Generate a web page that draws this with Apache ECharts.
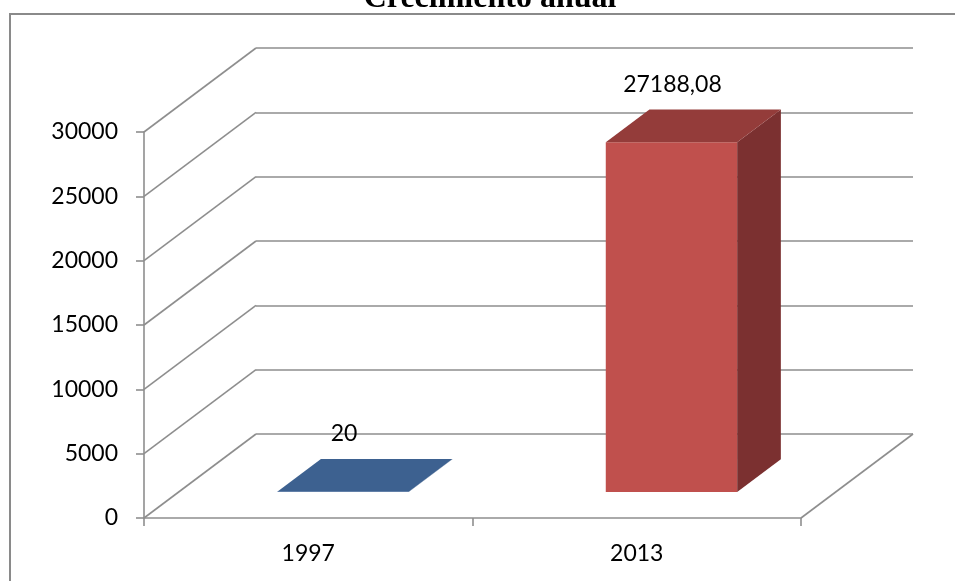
<!DOCTYPE html>
<html>
<head>
<meta charset="utf-8">
<title>Crecimiento anual</title>
<script src="https://cdn.jsdelivr.net/npm/echarts@6/dist/echarts.min.js"></script>
<style>
  html, body { margin: 0; padding: 0; background: #ffffff; overflow: hidden; }
  #chart { width: 955px; height: 581px; }
</style>
</head>
<body>
<div id="chart"></div>
<script>
// Series data
const categories = ['1997', '2013'];
const values = [20, 27188.08];
const yTicks = [0, 5000, 10000, 15000, 20000, 25000, 30000];

// Pseudo-3D layout: the front plane grid and the back wall offset by DEPTH
const FRONT = { left: 144, right: 154, top: 132, bottom: 63 };
const DEPTH = { x: 112, y: 84 };
const BAR_FRONT = 0.31;   // depth fraction where the bar's front face sits
const BAR_DEPTH = 0.39;   // depth fraction the bar occupies
const BAR_WIDTH = 0.4;    // fraction of the category band
const GRID_COLOR = '#8E8E8E';
const FACE_FRONT = ['#4F81BD', '#C0504D'];
const FACE_TOP = ['#3D6190', '#943C3A'];
const FACE_SIDE = ['#34527C', '#7B3030'];
const LABEL_FONT = 'Lato, "Open Sans", sans-serif';

const chart = echarts.init(document.getElementById('chart'), null, { renderer: 'canvas' });

const fmt = v => String(v).replace('.', ',');

const option = {
  animation: false,
  backgroundColor: '#ffffff',
  graphic: [
    {
      // chart-area frame: top and left edges (it runs on past the page)
      type: 'line', silent: true, z: -10,
      shape: { x1: 10, y1: 14, x2: 955, y2: 14 },
      style: { stroke: '#8A8A8A', lineWidth: 2 }
    },
    {
      type: 'line', silent: true, z: -10,
      shape: { x1: 10, y1: 13, x2: 10, y2: 581 },
      style: { stroke: '#8A8A8A', lineWidth: 2 }
    },
    {
      type: 'text', silent: true,
      x: 490, y: -1,
      style: {
        text: 'Crecimiento anual',
        font: 'bold 32px "Liberation Serif", "Times New Roman", serif',
        fill: '#000000', textAlign: 'center', textVerticalAlign: 'middle'
      }
    }
  ],
  grid: [
    { left: FRONT.left, right: FRONT.right, top: FRONT.top, bottom: FRONT.bottom, containLabel: false },
    {
      left: FRONT.left + DEPTH.x, right: FRONT.right - DEPTH.x,
      top: FRONT.top - DEPTH.y, bottom: FRONT.bottom + DEPTH.y, containLabel: false
    }
  ],
  xAxis: [
    {
      type: 'category', gridIndex: 0, data: categories, boundaryGap: true,
      axisLine: { show: true, lineStyle: { color: GRID_COLOR, width: 1.6 } },
      axisTick: { show: true, length: 8, interval: 0, lineStyle: { color: GRID_COLOR, width: 1.6 } },
      axisLabel: { color: '#000', fontFamily: LABEL_FONT, fontSize: 23, margin: 24 },
      splitLine: { show: false }
    },
    {
      type: 'category', gridIndex: 1, data: categories, boundaryGap: true, show: false
    }
  ],
  yAxis: [
    {
      type: 'value', gridIndex: 0, min: 0, max: yTicks[yTicks.length - 1],
      interval: yTicks[1] - yTicks[0],
      axisLine: { show: true, lineStyle: { color: GRID_COLOR, width: 1.6 } },
      axisTick: { show: true, length: 8, lineStyle: { color: GRID_COLOR, width: 1.6 } },
      axisLabel: {
        color: '#000', fontFamily: LABEL_FONT, fontSize: 23, margin: 26,
        padding: [8, 0, 0, 0],
        formatter: v => String(v)
      },
      splitLine: { show: false }
    },
    {
      type: 'value', gridIndex: 1, min: 0, max: yTicks[yTicks.length - 1],
      interval: yTicks[1] - yTicks[0],
      axisLine: { show: false }, axisTick: { show: false }, axisLabel: { show: false },
      splitLine: { show: true, showMinLine: true, showMaxLine: true,
                   lineStyle: { color: GRID_COLOR, width: 1.6 } }
    }
  ],
  series: [
    {
      // side-wall diagonals joining each front tick to the back wall
      type: 'custom', xAxisIndex: 0, yAxisIndex: 0, silent: true,
      data: yTicks.map(v => [0, v]),
      renderItem: (params, api) => {
        const p = api.coord([0, api.value(1)]);
        const x0 = p[0] - api.size([1, 0])[0] / 2;
        return {
          type: 'line',
          shape: { x1: x0, y1: p[1], x2: x0 + DEPTH.x, y2: p[1] - DEPTH.y },
          style: { stroke: GRID_COLOR, lineWidth: 1.6 }
        };
      }
    },
    {
      // right edge of the floor
      type: 'custom', xAxisIndex: 0, yAxisIndex: 0, silent: true,
      data: [[categories.length - 1, 0]],
      renderItem: (params, api) => {
        const p = api.coord([api.value(0), 0]);
        const x0 = p[0] + api.size([1, 0])[0] / 2;
        return {
          type: 'line',
          shape: { x1: x0, y1: p[1], x2: x0 + DEPTH.x, y2: p[1] - DEPTH.y },
          style: { stroke: GRID_COLOR, lineWidth: 1.6 }
        };
      }
    },
    {
      // 3D bars: front, top and side faces plus value label
      type: 'custom', xAxisIndex: 0, yAxisIndex: 0, silent: true, z: 5,
      data: values.map((v, i) => [i, v]),
      renderItem: (params, api) => {
        const i = api.value(0);
        const v = api.value(1);
        const base = api.coord([i, 0]);
        const top = api.coord([i, v]);
        const bw = api.size([1, 0])[0] * BAR_WIDTH;
        const ox = DEPTH.x * BAR_FRONT, oy = DEPTH.y * BAR_FRONT;
        const dx = DEPTH.x * BAR_DEPTH, dy = DEPTH.y * BAR_DEPTH;
        const xl = base[0] - bw / 2 + ox, xr = base[0] + bw / 2 + ox;
        const yb = base[1] - oy, yt = top[1] - oy;
        return {
          type: 'group',
          children: [
            {
              type: 'polygon',
              shape: { points: [[xl, yb], [xr, yb], [xr, yt], [xl, yt]] },
              style: { fill: FACE_FRONT[i] }
            },
            {
              type: 'polygon',
              shape: { points: [[xr, yb], [xr + dx, yb - dy], [xr + dx, yt - dy], [xr, yt]] },
              style: { fill: FACE_SIDE[i] }
            },
            {
              type: 'polygon',
              shape: { points: [[xl, yt], [xr, yt], [xr + dx, yt - dy], [xl + dx, yt - dy]] },
              style: { fill: FACE_TOP[i] }
            },
            {
              type: 'text',
              x: (xl + xr) / 2 + 1, y: yt - 58,
              style: {
                text: fmt(v), fill: '#000',
                font: '23px ' + LABEL_FONT,
                textAlign: 'center', textVerticalAlign: 'middle'
              }
            }
          ]
        };
      }
    }
  ]
};

chart.setOption(option);
</script>
</body>
</html>
